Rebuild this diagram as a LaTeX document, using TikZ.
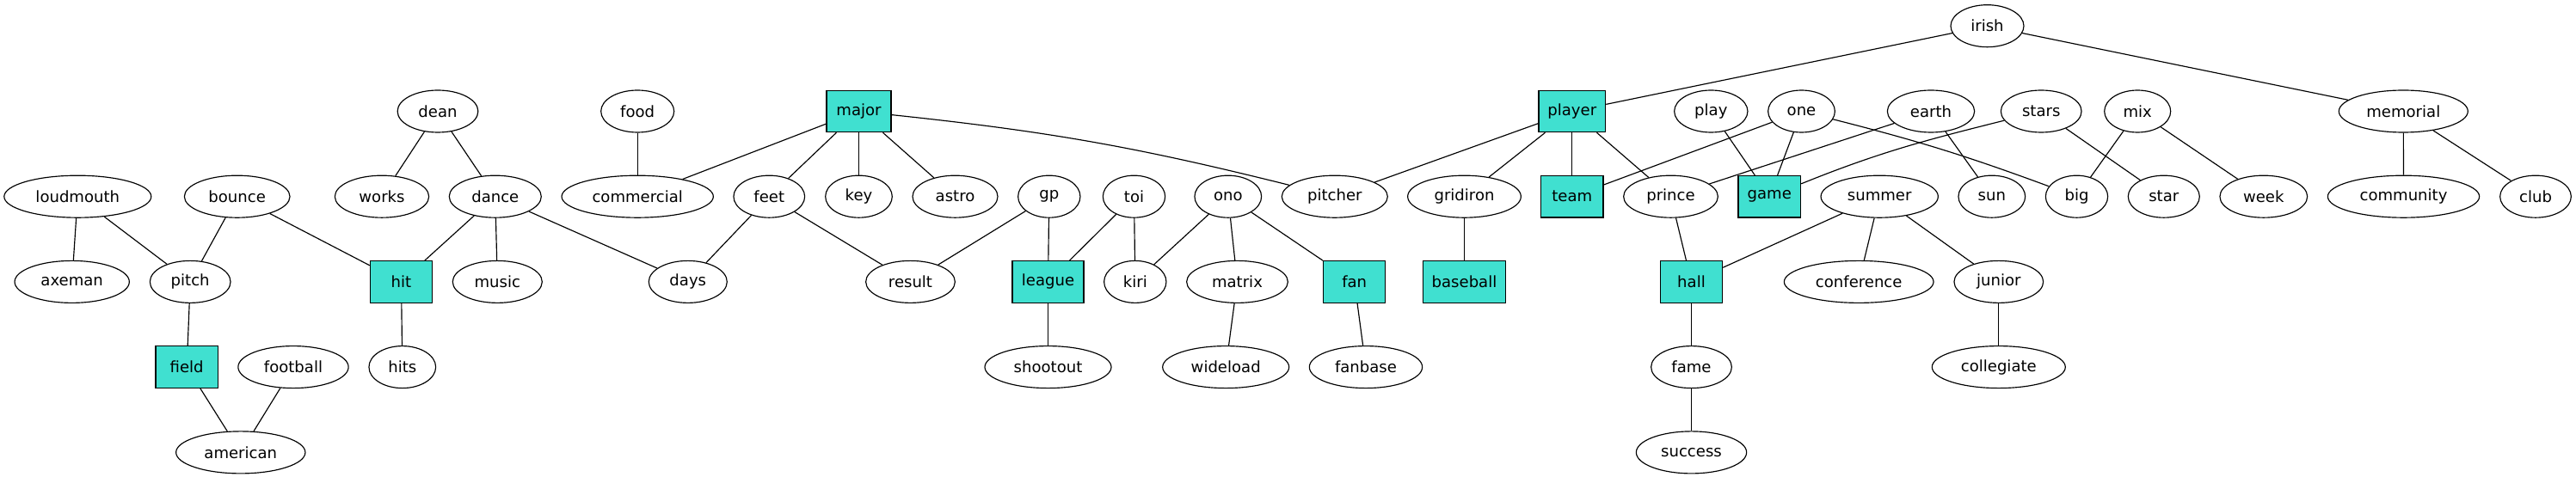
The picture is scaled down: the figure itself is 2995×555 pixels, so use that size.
\documentclass[tikz,border=0pt]{standalone}
\usepackage{fontspec}
\setmainfont{DejaVu Sans}
\usetikzlibrary{shapes.geometric}
\definecolor{turq}{HTML}{40E0D0}
\tikzset{
  el/.style={ellipse, draw=black, line width=0.9pt, inner sep=0pt,
    minimum width=#1*0.775pt, minimum height=49*0.775pt, font=\fontsize{14pt}{16pt}\selectfont},
  bx/.style={rectangle, draw=black, fill=turq, line width=0.9pt, inner sep=0pt,
    minimum width=#1*0.775pt, minimum height=48.5*0.775pt, font=\fontsize{14pt}{16pt}\selectfont},
  ed/.style={line width=0.9pt, draw=black}
}
\def\ra{30.2}
\def\rb{129.5}
\def\rc{228.7}
\def\rd{327.9}
\def\re{427.1}
\def\rf{526.4}
\begin{document}
\begin{tikzpicture}[x=0.775pt, y=-0.775pt]
\useasboundingbox (0,0) rectangle (2995,555);
% row 0
\node[el=85] (irish) at (2310.5,\ra) {irish};
% row 1
\node[el=93.7] (dean) at (509,\rb) {dean};
\node[el=85] (food) at (741.2,\rb) {food};
\node[bx=75] (major) at (998.5,\rb) {major};
\node[bx=77.7] (player) at (1827.8,\rb) {player};
\node[el=85.3] (play) at (1989.3,\rb) {play};
\node[el=77.7] (one) at (2094.5,\rb) {one};
\node[el=101.3] (earth) at (2245,\rb) {earth};
\node[el=93.7] (stars) at (2373.2,\rb) {stars};
\node[el=77] (mix) at (2485.2,\rb) {mix};
\node[el=150] (memorial) at (2794.3,\rb) {memorial};
% row 2
\node[el=171] (loudmouth) at (90.3,\rc) {loudmouth};
\node[el=122.7] (bounce) at (275.7,\rc) {bounce};
\node[el=109.3] (works) at (444,\rc) {works};
\node[el=107] (dance) at (575.8,\rc) {dance};
\node[el=176.3] (commercial) at (741.2,\rc) {commercial};
\node[el=82.7] (feet) at (894.3,\rc) {feet};
\node[el=77.6] (key) at (998.5,\rc) {key};
\node[el=99] (astro) at (1110.5,\rc) {astro};
\node[el=72.3] (gp) at (1219.8,\rc) {gp};
\node[el=72.3] (toi) at (1318.5,\rc) {toi};
\node[el=77.7] (ono) at (1427.8,\rc) {ono};
\node[el=123] (pitcher) at (1551.8,\rc) {pitcher};
\node[el=131.7] (gridiron) at (1702.5,\rc) {gridiron};
\node[bx=72.3] (team) at (1827.8,\rc) {team};
\node[el=109.7] (prince) at (1942.5,\rc) {prince};
\node[bx=72.7] (game) at (2057.3,\rc) {game};
\node[el=136.3] (summer) at (2185.2,\rc) {summer};
\node[el=77.7] (sun) at (2315.8,\rc) {sun};
\node[el=72.3] (big) at (2414.5,\rc) {big};
\node[el=83] (star) at (2515.8,\rc) {star};
\node[el=101.7] (week) at (2631.8,\rc) {week};
\node[el=176.3] (community) at (2794.5,\rc) {community};
\node[el=82.7] (club) at (2948,\rc) {club};
% row 3
\node[el=133.3] (axeman) at (83.7,\rd) {axeman};
\node[el=93.7] (pitch) at (221.2,\rd) {pitch};
\node[bx=72.3] (hit) at (466.5,\rd) {hit};
\node[el=104] (music) at (578.3,\rd) {music};
\node[el=91] (days) at (799.8,\rd) {days};
\node[el=103.7] (result) at (1058.5,\rd) {result};
\node[bx=83] (league) at (1218.5,\rd) {league};
\node[el=72.3] (kiri) at (1319.8,\rd) {kiri};
\node[el=117.7] (matrix) at (1438.5,\rd) {matrix};
\node[bx=72] (fan) at (1574.7,\rd) {fan};
\node[bx=96.3] (baseball) at (1702.5,\rd) {baseball};
\node[bx=72.3] (hall) at (1966.5,\rd) {hall};
\node[el=173.7] (conference) at (2161.2,\rd) {conference};
\node[el=103.7] (junior) at (2323.8,\rd) {junior};
% row 4
\node[bx=72.3] (field) at (217.2,\re) {field};
\node[el=128.3] (football) at (341,\re) {football};
\node[el=77.7] (hits) at (467.8,\re) {hits};
\node[el=147] (shootout) at (1218.5,\re) {shootout};
\node[el=147] (wideload) at (1425.2,\re) {wideload};
\node[el=131.3] (fanbase) at (1588,\re) {fanbase};
\node[el=93.7] (fame) at (1966.5,\re) {fame};
\node[el=155] (collegiate) at (2323.8,\re) {collegiate};
% row 5
\node[el=150.3] (american) at (279.8,\rf) {american};
\node[el=128.3] (success) at (1966.5,\rf) {success};
% edges
\draw[ed] (loudmouth) -- (axeman);
\draw[ed] (loudmouth) -- (pitch);
\draw[ed] (bounce) -- (pitch);
\draw[ed] (bounce) -- (hit);
\draw[ed] (dean) -- (works);
\draw[ed] (dean) -- (dance);
\draw[ed] (dance) -- (hit);
\draw[ed] (dance) -- (music);
\draw[ed] (dance) -- (days);
\draw[ed] (pitch) -- (field);
\draw[ed] (hit) -- (hits);
\draw[ed] (field) -- (american);
\draw[ed] (football) -- (american);
\draw[ed] (food) -- (commercial);
\draw[ed] (major) -- (commercial);
\draw[ed] (major) -- (feet);
\draw[ed] (major) -- (key);
\draw[ed] (major) -- (astro);
\draw[ed] (major) to[bend left=4] (pitcher);
\draw[ed] (feet) -- (days);
\draw[ed] (feet) -- (result);
\draw[ed] (gp) -- (result);
\draw[ed] (gp) -- (league);
\draw[ed] (toi) -- (league);
\draw[ed] (toi) -- (kiri);
\draw[ed] (ono) -- (kiri);
\draw[ed] (ono) -- (matrix);
\draw[ed] (ono) -- (fan);
\draw[ed] (league) -- (shootout);
\draw[ed] (matrix) -- (wideload);
\draw[ed] (fan) -- (fanbase);
\draw[ed] (player) -- (pitcher);
\draw[ed] (player) -- (gridiron);
\draw[ed] (player) -- (team);
\draw[ed] (player) -- (prince);
\draw[ed] (irish) -- (player);
\draw[ed] (irish) -- (memorial);
\draw[ed] (gridiron) -- (baseball);
\draw[ed] (one) -- (team);
\draw[ed] (play) -- (game);
\draw[ed] (one) -- (game);
\draw[ed] (one) to[bend left=3] (big);
\draw[ed] (earth) -- (prince);
\draw[ed] (earth) -- (sun);
\draw[ed] (stars) to[out=194,in=22] (game);
\draw[ed] (stars) -- (star);
\draw[ed] (mix) -- (big);
\draw[ed] (mix) -- (week);
\draw[ed] (prince) -- (hall);
\draw[ed] (summer) -- (hall);
\draw[ed] (summer) -- (conference);
\draw[ed] (summer) -- (junior);
\draw[ed] (hall) -- (fame);
\draw[ed] (fame) -- (success);
\draw[ed] (junior) -- (collegiate);
\draw[ed] (memorial) -- (community);
\draw[ed] (memorial) -- (club);
\end{tikzpicture}
\end{document}
